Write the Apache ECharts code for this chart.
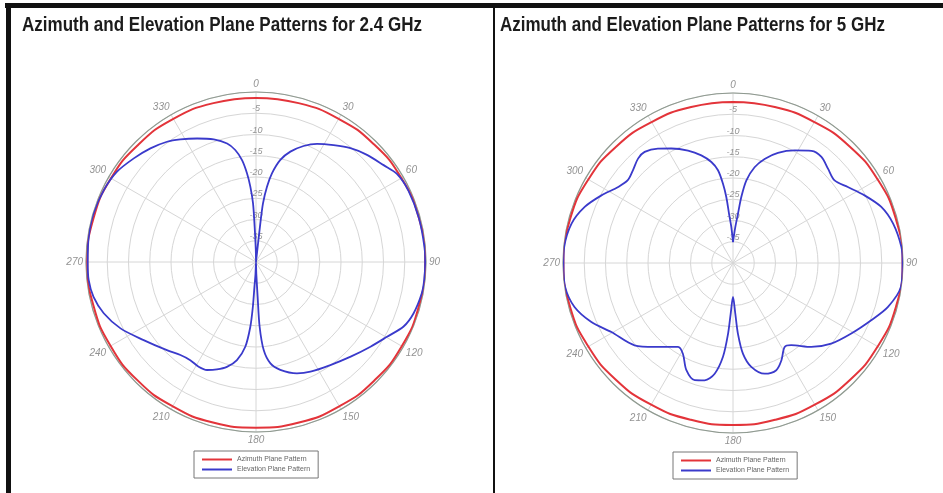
<!DOCTYPE html>
<html><head><meta charset="utf-8">
<script src="https://cdn.jsdelivr.net/npm/echarts/dist/echarts.min.js"></script>
<style>html,body{margin:0;padding:0;background:#fff}#c{width:943px;height:493px}</style>
</head><body><div id="c"></div>
<script>
const titles = ['Azimuth and Elevation Plane Patterns for 2.4 GHz', 'Azimuth and Elevation Plane Patterns for 5 GHz'];
const seriesNames = ['Azimuth Plane Pattern', 'Elevation Plane Pattern'];
const dbMin = -40, dbMax = 0, dbStep = 5;
const angleStep = 30;

// Azimuth plane (red), read every 15 degrees
const azAngles = [0,15,30,45,60,75,90,105,120,135,150,165,180,195,210,225,240,255,270,285,300,315,330,345,360];
const az24 = [-1.4,-1.3,-1.1,-0.8,-0.5,-0.3,-0.2,-0.3,-0.4,-0.6,-0.8,-0.9,-1.0,-0.9,-0.8,-0.6,-0.5,-0.4,-0.3,-0.4,-0.6,-0.9,-1.1,-1.3,-1.4];
const az5  = [-2.1,-2.0,-1.7,-1.2,-0.7,-0.3,-0.1,-0.3,-0.7,-1.1,-1.5,-1.8,-1.9,-1.8,-1.5,-1.1,-0.7,-0.3,-0.1,-0.3,-0.7,-1.2,-1.7,-2.0,-2.1];

// Elevation plane (blue), 2.4 GHz
const el24Angles = [0,6.4,6.8,8.3,10.2,13.4,17.3,22.3,27.3,33.6,39.7,46,52.8,58,65,75,85,90,96,100.7,108,113.6,119.7,126.5,135,144.2,153.6,159.8,167.3,171.9,175,176.8,177.3,178.5,180,182.5,183.6,184,185,187.2,191,195.5,200,204.4,208.7,213.8,219.1,225.3,235.2,243.9,251.4,257.9,263.9,270,278.6,286.7,295.3,303,310.3,317.1,323.5,328.3,334.5,341,346.3,349.5,352.2,354.2,355.7,357.1,357.8,359,360];
const el24 = [-40,-30.8,-26.1,-22.1,-18.8,-15.3,-12.8,-10.5,-8.7,-7.0,-5.2,-3.7,-2.3,-0.9,-0.4,-0.3,-0.2,-0.2,-0.2,-0.3,-1.0,-2.1,-4.5,-6.5,-8.5,-10.1,-11.2,-12.1,-14.0,-15.9,-19.2,-24.8,-31.8,-37.3,-40,-37,-34.2,-29.5,-24.7,-19.9,-16.5,-14.4,-13.1,-12.1,-11.9,-12.2,-11.8,-10.5,-7.8,-4.5,-2.2,-0.9,-0.4,-0.4,-0.2,-0.1,-0.4,-1.0,-2.3,-3.5,-4.8,-6.1,-7.8,-9.5,-11.3,-13.2,-15.8,-19.0,-22.2,-26.2,-31.7,-37,-40];

// Elevation plane (blue), 5 GHz
const el5Angles = [0,3.7,5.8,7.2,9.2,12.7,16.9,22.2,28.7,35,39.8,45.2,50.9,56.5,62.8,69.3,76.2,84.6,90,98.1,105.8,112.5,120.8,129.4,137,144.7,148.4,153.6,158,164,170,173.7,176,177.4,180,182.6,184,186.1,189.4,193.6,198.1,203.5,208.9,213.2,223,230.1,240.4,247.4,254.5,261.9,270,275.4,283.7,290.7,297.2,303.5,308.2,312.8,317.7,321.5,326.7,331.7,338.2,343.6,347.9,350.8,352.8,354.2,355.4,357.3,360];
const el5 = [-35.1,-31.5,-28.3,-24.3,-20.3,-16.9,-14.4,-12.0,-9.8,-7.8,-7.5,-8.5,-9.2,-7.6,-5.2,-2.7,-1.2,-0.2,-0.1,-0.1,-2.1,-4.8,-7.6,-10.1,-13.0,-16.3,-16.8,-14.4,-12.8,-12.9,-15.2,-18.5,-23.3,-28.1,-32.0,-28.1,-23.3,-17.8,-13.6,-11.6,-11.0,-12.5,-15.6,-16.4,-13.0,-9.8,-7.1,-3.9,-1.3,-0.1,-0.1,-0.1,-0.9,-2.7,-5.2,-7.6,-8.5,-7.9,-6.8,-6.6,-7.8,-9.4,-11.5,-13.6,-15.7,-17.9,-21.2,-24.4,-28.4,-31.5,-35.1];

const RED = '#e3343a', BLUE = '#3a3acb';
const zip = (angles, vals) => angles.map((a, i) => [vals[i], a]);

const polarDefs = [
  {center: [256, 262], radius: 170},
  {center: [733, 263], radius: 170}
];

const angleAxes = polarDefs.map((p, i) => ({
  polarIndex: i, type: 'value', min: 0, max: 360, interval: angleStep,
  startAngle: 90, clockwise: true,
  axisLine: {lineStyle: {color: '#8f9a90', width: 1.2}},
  axisTick: {show: false},
  splitLine: {show: true, lineStyle: {color: '#d6d6d6', width: 1}},
  axisLabel: {color: '#939393', fontSize: 10, fontStyle: 'italic', margin: 3,
    formatter: v => v === 360 ? '' : String(v)}
}));
const radiusAxes = polarDefs.map((p, i) => ({
  polarIndex: i, type: 'value', min: dbMin, max: dbMax, interval: dbStep,
  axisLine: {show: false}, axisTick: {show: false},
  splitLine: {show: true, lineStyle: {color: '#d6d6d6', width: 1}},
  axisLabel: {color: '#939393', fontSize: 9, fontStyle: 'italic', margin: 0,
    align: 'center', verticalAlign: 'bottom',
    formatter: v => (v === dbMin || v === dbMax) ? '' : String(v)}
}));

const series = [
  {name: seriesNames[0], polarIndex: 0, data: zip(azAngles, az24), color: RED, smooth: true, z: 3, w: 2},
  {name: seriesNames[1], polarIndex: 0, data: zip(el24Angles, el24), color: BLUE, smooth: 0.3, z: 4, w: 1.8},
  {name: seriesNames[0], polarIndex: 1, data: zip(azAngles, az5), color: RED, smooth: true, z: 3, w: 2},
  {name: seriesNames[1], polarIndex: 1, data: zip(el5Angles, el5), color: BLUE, smooth: 0.3, z: 4, w: 1.8}
].map(s => ({
  type: 'line', coordinateSystem: 'polar', polarIndex: s.polarIndex, name: s.name,
  data: s.data, showSymbol: false, symbol: 'none', smooth: s.smooth, z: s.z,
  lineStyle: {color: s.color, width: s.w}, itemStyle: {color: s.color}
}));

const legendBase = {
  orient: 'vertical', data: seriesNames, icon: 'rect', itemWidth: 30, itemHeight: 2,
  itemGap: 3, padding: [5, 8, 5, 8], borderColor: '#777', borderWidth: 1,
  backgroundColor: '#fff', textStyle: {fontSize: 7, color: '#666'}
};

// condensed bold titles: measure and squeeze horizontally to the reference width
const titleFont = 'bold 21px "Liberation Sans", Arial, sans-serif';
const mctx = document.createElement('canvas').getContext('2d');
mctx.font = titleFont;
const titleWidths = [400, 385];
const titleX = [22, 500];
const titleGraphics = titles.map((t, i) => ({
  type: 'text', x: titleX[i], y: 15, scaleX: titleWidths[i] / mctx.measureText(t).width, z: 10,
  style: {text: t, font: titleFont, fill: '#1c1c1c', verticalAlign: 'top'}
}));

const chart = echarts.init(document.getElementById('c'), null, {renderer: 'canvas'});
chart.setOption({
  animation: false,
  backgroundColor: '#fff',
  legend: [
    Object.assign({}, legendBase, {left: 194, top: 451}),
    Object.assign({}, legendBase, {left: 673, top: 452})
  ],
  polar: polarDefs,
  angleAxis: angleAxes,
  radiusAxis: radiusAxes,
  series: series,
  graphic: [
    {type: 'rect', shape: {x: 5, y: 3, width: 940, height: 5}, style: {fill: '#111'}},
    {type: 'rect', shape: {x: 6, y: 3, width: 5, height: 492}, style: {fill: '#111'}},
    {type: 'rect', shape: {x: 493, y: 3, width: 2, height: 492}, style: {fill: '#111'}}
  ].concat(titleGraphics)
});
</script></body></html>
